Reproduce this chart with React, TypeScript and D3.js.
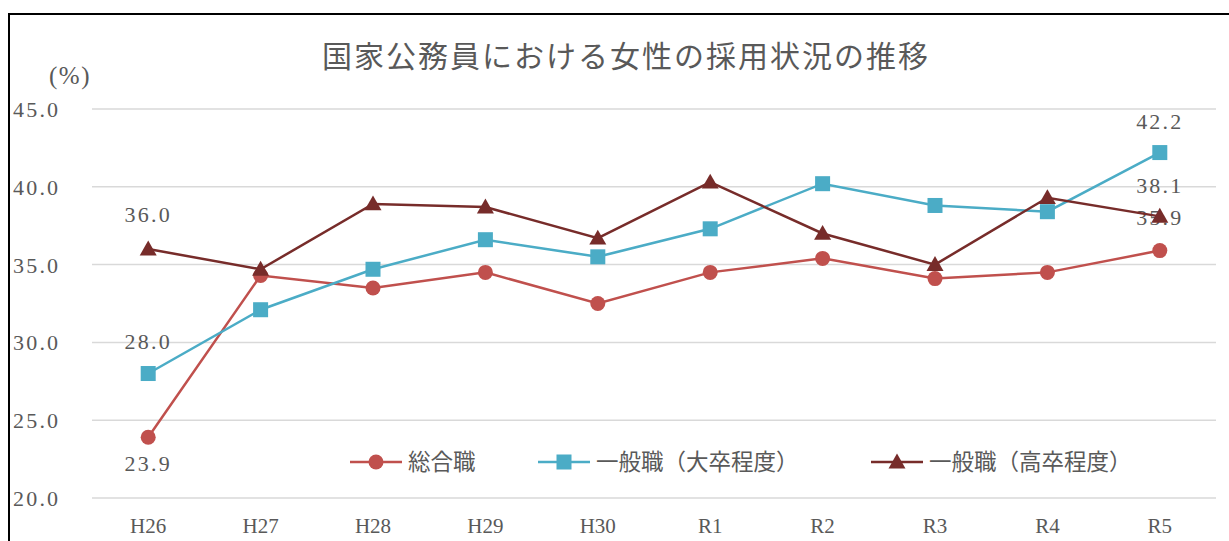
import React from "react";
import * as d3 from "d3";

const categories = ["H26", "H27", "H28", "H29", "H30", "R1", "R2", "R3", "R4", "R5"];
const sogo = [23.9, 34.3, 33.5, 34.5, 32.5, 34.5, 35.4, 34.1, 34.5, 35.9];
const daisotsu = [28.0, 32.1, 34.7, 36.6, 35.5, 37.3, 40.2, 38.8, 38.4, 42.2];
const kousotsu = [36.0, 34.7, 38.9, 38.7, 36.7, 40.3, 37.0, 35.0, 39.3, 38.1];
const yTicks = [20, 25, 30, 35, 40, 45];
const seriesNames = ["総合職", "一般職（大卒程度）", "一般職（高卒程度）"];

const W = 1229;
const H = 541;
const numFont = "'Liberation Serif', 'DejaVu Serif', serif";
const sansFont = "'Noto Sans CJK JP', 'Noto Sans', sans-serif";
const textColor = "#595959";

export default function App() {
  const x = d3.scalePoint<string>().domain(categories).range([92, 1216]).padding(0.5);
  const y = d3.scaleLinear().domain([20, 45]).range([498, 109]);
  const line = d3
    .line<number>()
    .x((_, i) => x(categories[i]) as number)
    .y((d) => y(d));

  const series = [
    { name: seriesNames[0], values: sogo, color: "#C0504D", marker: "circle", labelDy: [26, -34] },
    { name: seriesNames[1], values: daisotsu, color: "#4BACC6", marker: "square", labelDy: [-33, -32] },
    { name: seriesNames[2], values: kousotsu, color: "#772C2A", marker: "triangle", labelDy: [-35, -31] },
  ];

  const marker = (type: string, cx: number, cy: number, color: string, key: string) => {
    if (type === "circle") return <circle key={key} cx={cx} cy={cy} r={7.5} fill={color} />;
    if (type === "square")
      return <rect key={key} x={cx - 7.5} y={cy - 7.5} width={15} height={15} fill={color} />;
    const s = 8.5;
    return (
      <path
        key={key}
        d={`M${cx},${cy - s}L${cx + s},${cy + s * 0.75}L${cx - s},${cy + s * 0.75}Z`}
        fill={color}
      />
    );
  };

  const legendX = [350, 538, 871];
  const legendY = 462;

  return (
    <svg
      width={W}
      height={H}
      style={{ position: "absolute", left: 0, top: 0, background: "#fff" }}
    >
      <rect x={0} y={0} width={W} height={H} fill="#fff" />
      <rect x={9} y={14} width={W + 20} height={H + 20} fill="none" stroke="#000" strokeWidth={2} />
      <text
        x={626}
        y={67}
        textAnchor="middle"
        fontFamily={sansFont}
        fontSize={30}
        letterSpacing={2}
        fill={textColor}
      >
        国家公務員における女性の採用状況の推移
      </text>
      <text
        x={70}
        y={84}
        textAnchor="middle"
        fontFamily={numFont}
        fontSize={25}
        letterSpacing={1.5}
        fontWeight={300}
        fill={textColor}
      >
        (%)
      </text>
      {yTicks.map((t) => (
        <g key={t}>
          <line x1={92} x2={1216} y1={y(t)} y2={y(t)} stroke="#D9D9D9" strokeWidth={1.5} />
          <text
            x={13}
            y={y(t) + 8}
            fontFamily={numFont}
            fontSize={22}
            letterSpacing={2.2}
            fill={textColor}
          >
            {t.toFixed(1)}
          </text>
        </g>
      ))}
      {categories.map((c) => (
        <text
          key={c}
          x={x(c) as number}
          y={533}
          textAnchor="middle"
          fontFamily={numFont}
          fontSize={21}
          fill={textColor}
        >
          {c}
        </text>
      ))}
      {series.map((s) => (
        <g key={s.name}>
          <path d={line(s.values) || ""} fill="none" stroke={s.color} strokeWidth={2.5} />
          {s.values.map((v, i) => marker(s.marker, x(categories[i]) as number, y(v), s.color, `${s.name}-${i}`))}
          {[0, s.values.length - 1].map((i, k) => (
            <text
              key={i}
              x={x(categories[i]) as number}
              y={y(s.values[i]) + s.labelDy[k] + 8}
              textAnchor="middle"
              fontFamily={numFont}
              fontSize={22}
              letterSpacing={2.2}
              fill={textColor}
            >
              {s.values[i].toFixed(1)}
            </text>
          ))}
        </g>
      ))}
      {series.map((s, i) => (
        <g key={`leg-${s.name}`}>
          <line x1={legendX[i]} x2={legendX[i] + 52} y1={legendY} y2={legendY} stroke={s.color} strokeWidth={2.5} />
          {marker(s.marker, legendX[i] + 26, legendY, s.color, `lm-${i}`)}
          <text
            x={legendX[i] + 58}
            y={legendY + 8}
            fontFamily={sansFont}
            fontSize={22.5}
            fill={textColor}
          >
            {s.name}
          </text>
        </g>
      ))}
    </svg>
  );
}
